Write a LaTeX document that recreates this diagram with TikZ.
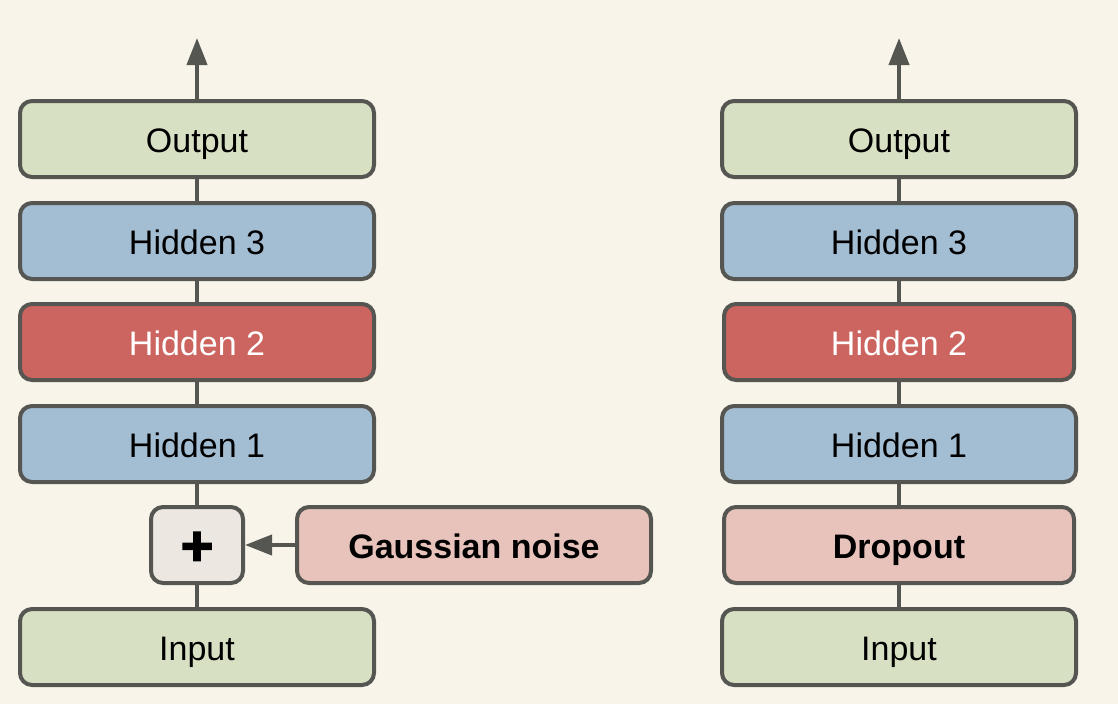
\documentclass[tikz,border=0pt]{standalone}
\usepackage{fontspec}
\setmainfont{Liberation Sans}
\newfontfamily\plusfont[FakeBold=2.5]{Liberation Sans Bold}
\usetikzlibrary{arrows.meta}
\definecolor{bg}{HTML}{F8F4EA}
\definecolor{edge}{HTML}{555551}
\definecolor{green}{HTML}{D7E0C3}
\definecolor{blue}{HTML}{A3BDD3}
\definecolor{red}{HTML}{CC6560}
\definecolor{pink}{HTML}{E8C3BC}
\definecolor{plusfill}{HTML}{ECE8E1}
\begin{document}
\begin{tikzpicture}[x=1pt,y=-1pt,
  box/.style={draw=edge, line width=4pt, rounded corners=12pt, minimum width=354pt,
    minimum height=76pt, inner sep=0pt, text height=26pt, text depth=0pt,
    font=\fontsize{34}{40}\selectfont},
  link/.style={draw=edge, line width=4pt},
  arr/.style={link, -{Triangle[width=20pt,length=27pt]}}]
\useasboundingbox[fill=bg] (0,0) rectangle (1118,704);
% left column
\node[box, fill=green] (lout) at (197,139) {Output};
\node[box, fill=blue] (lh3) at (197,241) {Hidden 3};
\node[box, fill=red, text=white] (lh2) at (197,342) {Hidden 2};
\node[box, fill=blue] (lh1) at (197,444) {Hidden 1};
\node[box, fill=plusfill, minimum width=92pt, text height=40pt, font=\fontsize{56}{60}\plusfont] (plus) at (197,545) {+};
\node[box, fill=pink, font=\fontsize{34}{40}\selectfont\bfseries] (noise) at (474,545) {Gaussian noise};
\node[box, fill=green] (lin) at (197,647) {Input};
\coordinate (ltop) at (197,38);
\draw[link] (lin) -- (plus);
\draw[link] (plus) -- (lh1);
\draw[link] (lh1) -- (lh2);
\draw[link] (lh2) -- (lh3);
\draw[link] (lh3) -- (lout);
\draw[arr] (lout) -- (ltop);
\draw[arr] (noise) -- (plus);
% right column
\node[box, fill=green] (rout) at (899,139) {Output};
\node[box, fill=blue] (rh3) at (899,241) {Hidden 3};
\node[box, fill=red, text=white, minimum width=350pt] (rh2) at (899,342) {Hidden 2};
\node[box, fill=blue] (rh1) at (899,444) {Hidden 1};
\node[box, fill=pink, minimum width=350pt, font=\fontsize{34}{40}\selectfont\bfseries] (drop) at (899,545) {Dropout};
\node[box, fill=green] (rin) at (899,647) {Input};
\coordinate (rtop) at (899,38);
\draw[link] (rin) -- (drop);
\draw[link] (drop) -- (rh1);
\draw[link] (rh1) -- (rh2);
\draw[link] (rh2) -- (rh3);
\draw[link] (rh3) -- (rout);
\draw[arr] (rout) -- (rtop);
\end{tikzpicture}
\end{document}
